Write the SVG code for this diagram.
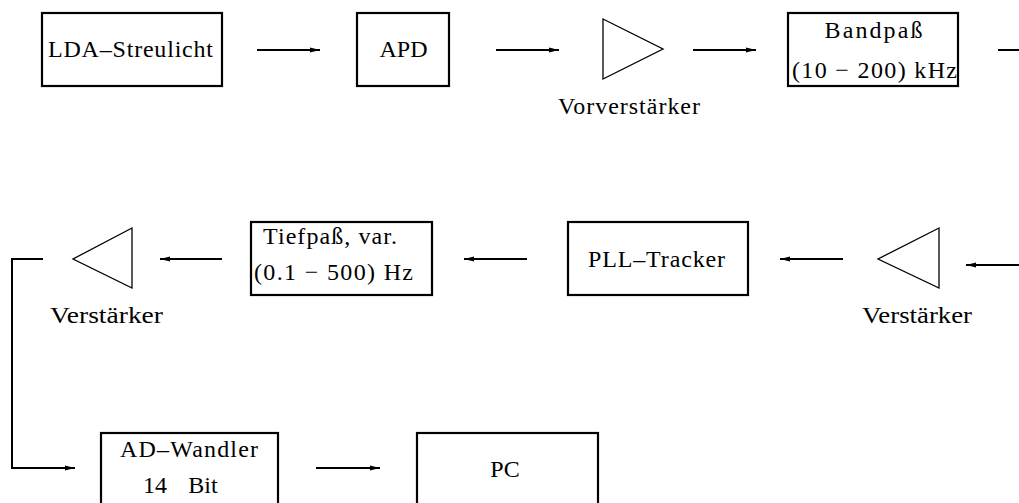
<svg xmlns="http://www.w3.org/2000/svg" width="1019" height="503" viewBox="0 0 1019 503">
<style>
.box{fill:#fff;stroke:#000;stroke-width:2.2}
.amp{fill:none;stroke:#000;stroke-width:1.3;stroke-linejoin:miter}
text{font-family:'Liberation Serif','Times New Roman','DejaVu Serif',serif;font-size:24px;fill:#000;text-anchor:middle}
.c{fill:none;stroke:#000;stroke-width:2}
</style>
<defs>
<marker id="ah" markerUnits="userSpaceOnUse" markerWidth="12" markerHeight="8" refX="10" refY="4" orient="auto">
<path d="M0,1.5 L10,4 L0,6.5 Z" fill="#000"/>
</marker>
</defs>
<g id="connectors">
<line class="c" x1="257" y1="50" x2="320" y2="50" marker-end="url(#ah)"/>
<line class="c" x1="496" y1="50" x2="559" y2="50" marker-end="url(#ah)"/>
<line class="c" x1="693" y1="50" x2="756" y2="50" marker-end="url(#ah)"/>
<line class="c" x1="998" y1="50" x2="1019" y2="50"/>
<line class="c" x1="1019" y1="265" x2="966" y2="265" marker-end="url(#ah)"/>
<line class="c" x1="843" y1="259" x2="780" y2="259" marker-end="url(#ah)"/>
<line class="c" x1="527" y1="259" x2="464" y2="259" marker-end="url(#ah)"/>
<line class="c" x1="222" y1="259" x2="160" y2="259" marker-end="url(#ah)"/>
<polyline class="c" points="43,259 12,259 12,468 75,468" marker-end="url(#ah)"/>
<line class="c" x1="316" y1="468" x2="380" y2="468" marker-end="url(#ah)"/>
</g>
<g id="lda">
<rect class="box" x="42" y="13" width="180" height="73"/>
<text x="130.5" y="57" textLength="165" lengthAdjust="spacing">LDA–Streulicht</text>
</g>
<g id="apd">
<rect class="box" x="357" y="13" width="92" height="73"/>
<text x="403.5" y="57">APD</text>
</g>
<g id="vorverstaerker">
<polygon class="amp" points="603,19 663,49 603,79"/>
<text x="629" y="114" textLength="142" lengthAdjust="spacing">Vorverstärker</text>
</g>
<g id="bandpass">
<rect class="box" x="788" y="13" width="170" height="73"/>
<text x="873.5" y="38" textLength="98" lengthAdjust="spacing">Bandpaß</text>
<text x="874.5" y="78" textLength="165" lengthAdjust="spacing">(10 − 200) kHz</text>
</g>
<g id="verstaerker1">
<polygon class="amp" points="939,228 878,259 939,288"/>
<text x="917" y="323" textLength="110" lengthAdjust="spacingAndGlyphs">Verstärker</text>
</g>
<g id="pll">
<rect class="box" x="568" y="222" width="180" height="73"/>
<text x="656.5" y="267" textLength="137" lengthAdjust="spacing">PLL–Tracker</text>
</g>
<g id="tiefpass">
<rect class="box" x="251" y="222" width="181" height="73"/>
<text x="330" y="244" textLength="134" lengthAdjust="spacing">Tiefpaß, var.</text>
<text x="333.5" y="280" textLength="159" lengthAdjust="spacing">(0.1 − 500) Hz</text>
</g>
<g id="verstaerker2">
<polygon class="amp" points="132,228 73,259 132,288"/>
<text x="106.5" y="323" textLength="113" lengthAdjust="spacingAndGlyphs">Verstärker</text>
</g>
<g id="adwandler">
<rect class="box" x="101" y="433" width="177" height="90"/>
<text x="189" y="457" textLength="138" lengthAdjust="spacing">AD–Wandler</text>
<text y="493"><tspan x="155">14</tspan><tspan x="203">Bit</tspan></text>
</g>
<g id="pc">
<rect class="box" x="417" y="433" width="181" height="90"/>
<text x="505" y="477">PC</text>
</g>
</svg>
